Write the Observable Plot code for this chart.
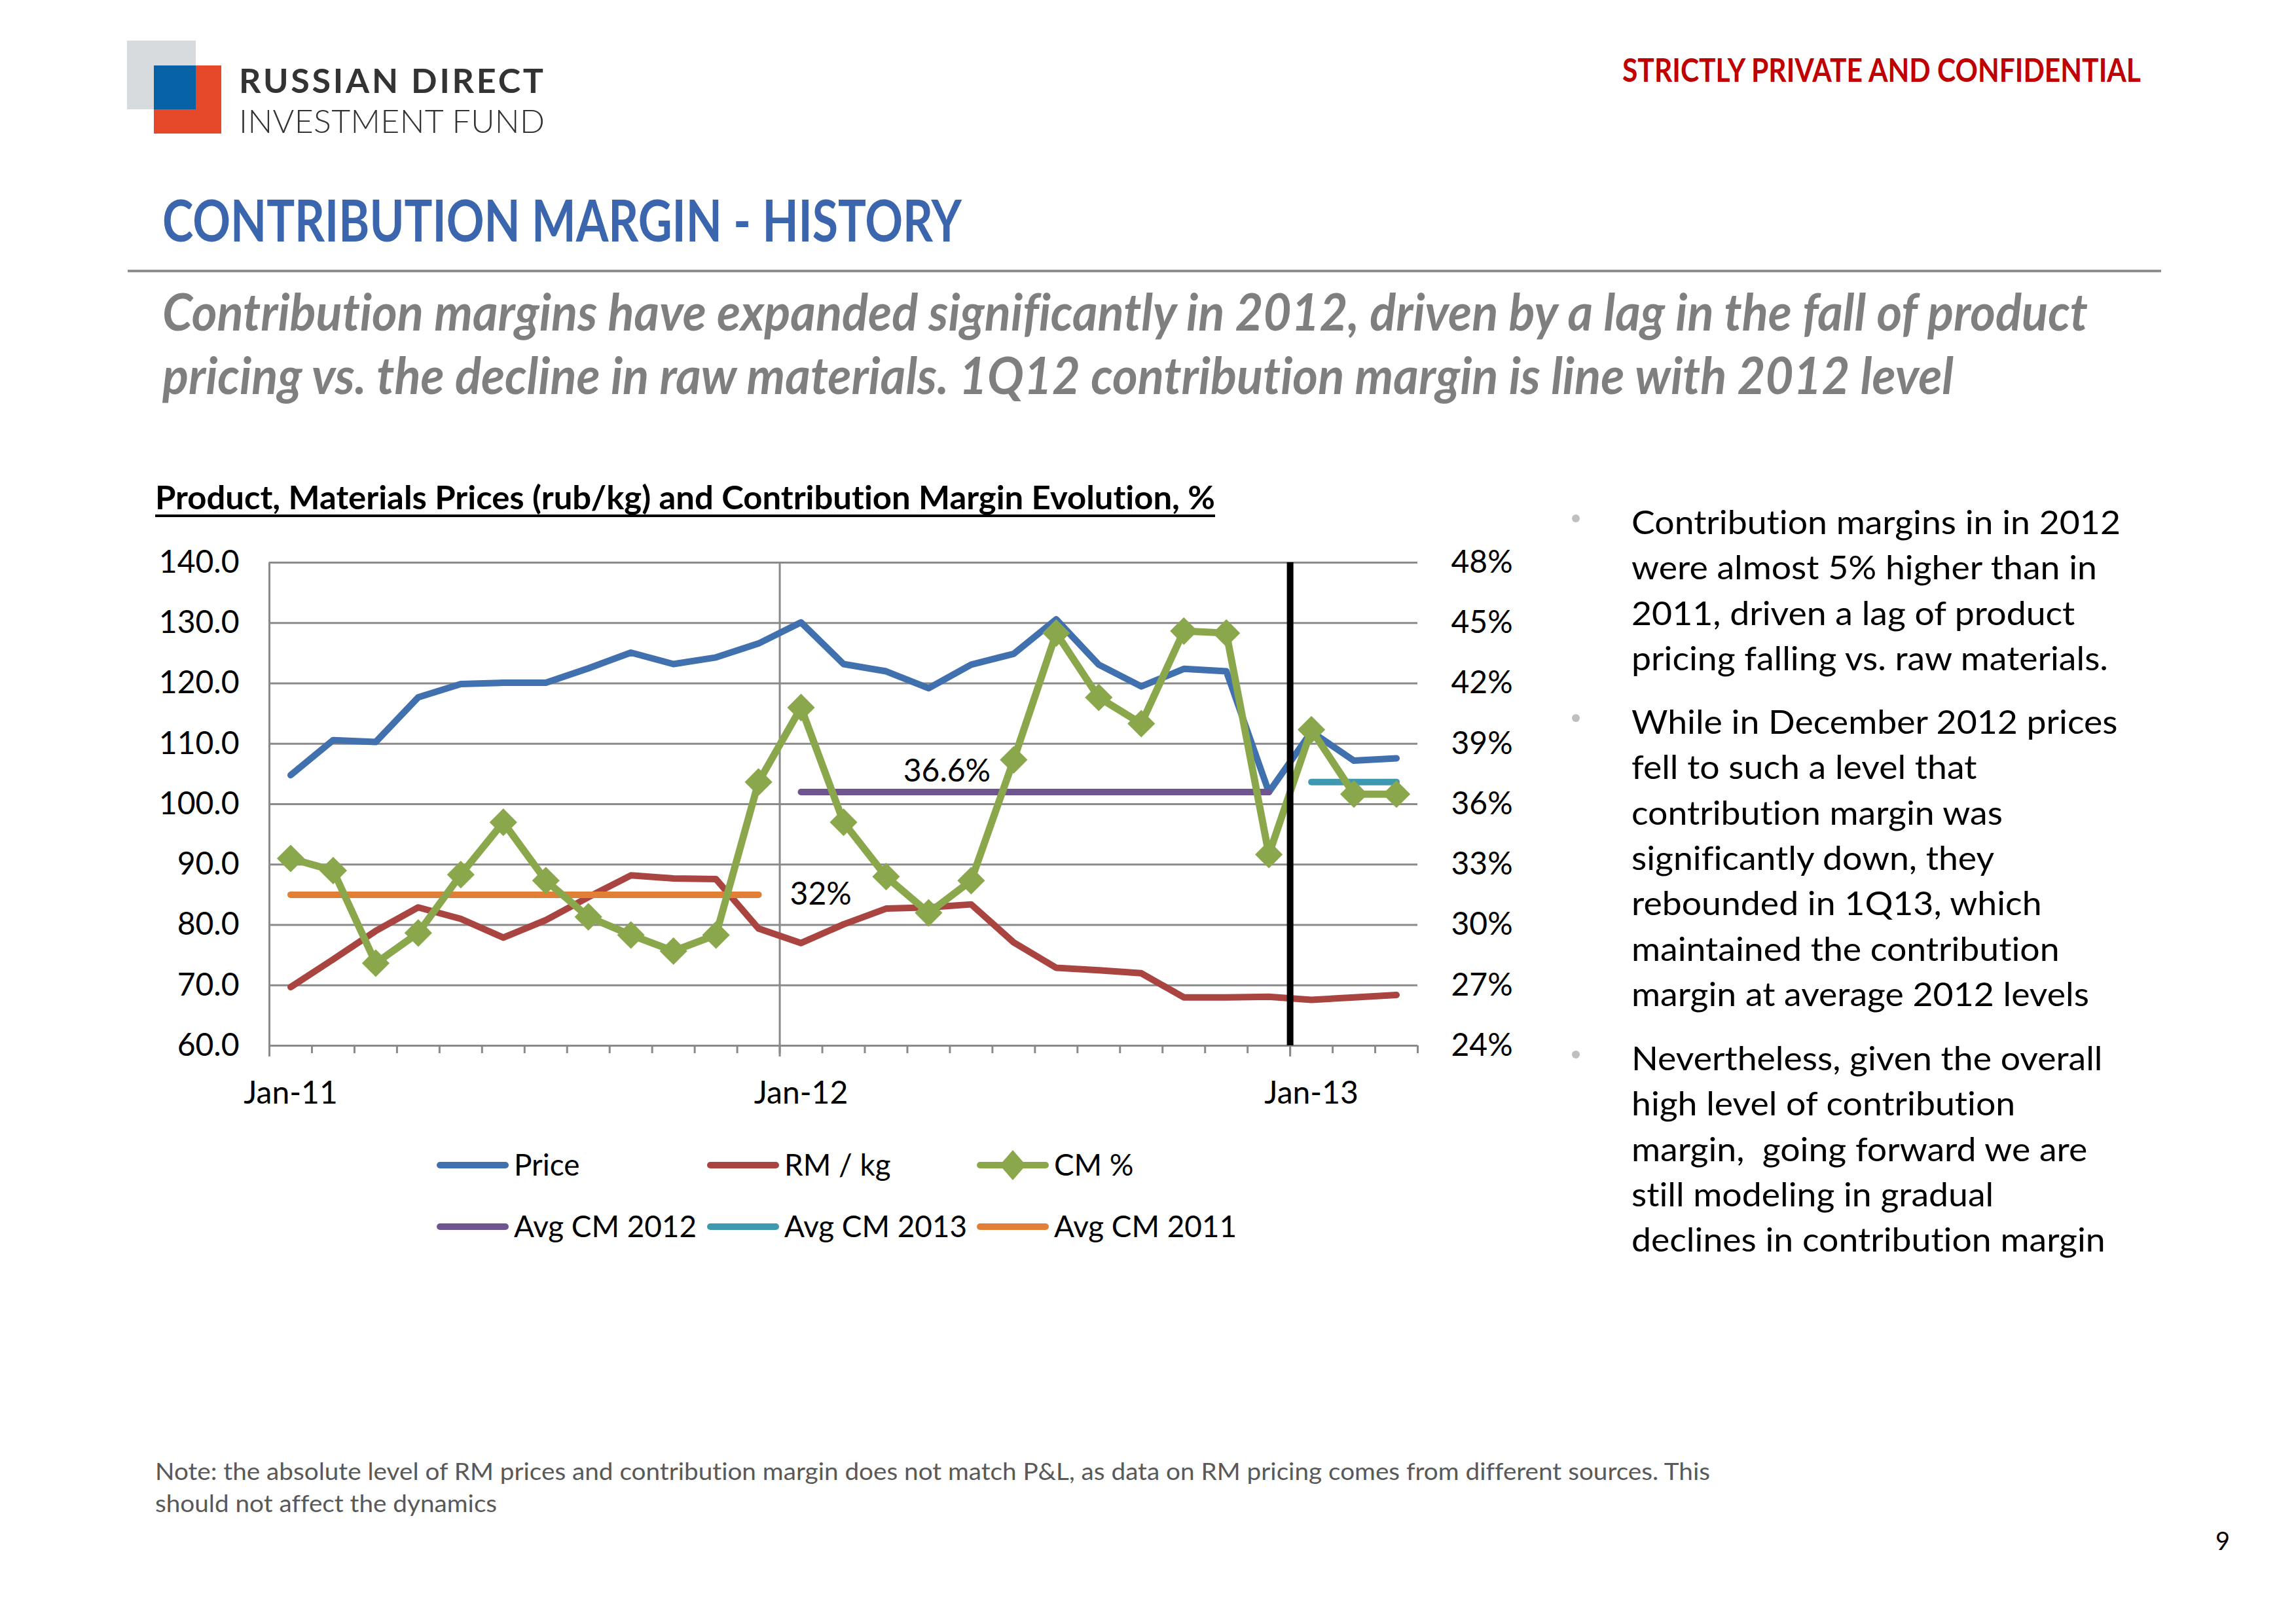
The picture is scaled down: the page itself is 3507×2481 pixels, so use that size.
<!DOCTYPE html>
<html><head><meta charset="utf-8">
<script src="https://cdn.jsdelivr.net/npm/d3@7"></script>
<script src="https://cdn.jsdelivr.net/npm/@observablehq/plot@0.6"></script>
<style>
html,body{margin:0;padding:0;background:#fff;}
#page{position:relative;width:3507px;height:2481px;overflow:hidden;background:#fff;font-family:Lato,sans-serif;font-variant-ligatures:none;}
#page text{font-variant-ligatures:none;}
#deco{position:absolute;left:0;top:0;}
#chart{position:absolute;left:200px;top:820px;}
</style></head>
<body><div id="page"><svg id="deco" width="3507" height="2481"></svg><div id="chart"></div></div>
<script>
// ---------------- DATA ----------------
const months = ["Jan-11","Feb-11","Mar-11","Apr-11","May-11","Jun-11","Jul-11","Aug-11","Sep-11","Oct-11","Nov-11","Dec-11",
                "Jan-12","Feb-12","Mar-12","Apr-12","May-12","Jun-12","Jul-12","Aug-12","Sep-12","Oct-12","Nov-12","Dec-12",
                "Jan-13","Feb-13","Mar-13"];
const price = [104.8,110.6,110.3,117.7,119.9,120.1,120.1,122.5,125.1,123.2,124.3,126.6,
               130.1,123.2,122.0,119.2,123.1,124.9,130.6,123.1,119.5,122.4,122.0,102.0,
               112.0,107.2,107.6];
const rmKg = [69.7,74.3,79.0,82.9,81.0,77.9,80.8,84.6,88.2,87.7,87.6,79.4,
              77.0,80.1,82.7,82.9,83.4,77.1,72.9,72.5,72.0,68.0,68.0,68.1,
              67.6,68.0,68.4];
const cmPct = [33.3,32.7,28.1,29.6,32.5,35.1,32.2,30.4,29.5,28.7,29.5,37.1,
               40.8,35.1,32.4,30.6,32.2,38.2,44.5,41.3,40.0,44.6,44.5,33.5,
               39.7,36.5,36.5];
const avgNames  = ["Avg CM 2011","Avg CM 2012","Avg CM 2013"];
const avgValues = [31.5, 36.6, 37.1];
const avgFrom   = ["Jan-11","Jan-12","Jan-13"];
const avgTo     = ["Dec-11","Dec-12","Mar-13"];
const avgLabels = ["32%","36.6%",null];
const avgLabelAt = ["Dec-11","Apr-12",null];
const leftTicks  = [60,70,80,90,100,110,120,130,140];
const rightTicks = [24,27,30,33,36,39,42,45,48];
const xTickLabels = ["Jan-11","Jan-12","Jan-13"];
const majorGridAt = ["Jan-12"];
const dividerAt = ["Jan-13"];
const seriesNames  = ["Price","RM / kg","CM %","Avg CM 2012","Avg CM 2013","Avg CM 2011"];
const seriesColors = ["#4170AE","#A94441","#8AA84B","#6E558F","#3E98B0","#E07F35"];
const colorOf = Object.fromEntries(seriesNames.map((n,i)=>[n,seriesColors[i]]));

// ---------------- SCALES / HELPERS ----------------
const L0 = leftTicks[0], L1 = leftTicks[leftTicks.length-1];
const R0 = rightTicks[0], R1 = rightTicks[rightTicks.length-1];
const toLeft = p => L0 + (p - R0) * (L1 - L0) / (R1 - R0);
const fromLeft = v => R0 + (v - L0) * (R1 - R0) / (L1 - L0);
const idx = m => months.indexOf(m);
const rows = months.map((m,i) => ({i, m, price: price[i], rm: rmKg[i], cm: cmPct[i]}));
const avgRows = avgNames.flatMap((n,k) => d3.range(idx(avgFrom[k]), idx(avgTo[k]) + 1).map(i => ({name:n, i, v: toLeft(avgValues[k])})));
const labelRows = avgNames.map((n,k)=>({name:n, label: avgLabels[k], at: avgLabelAt[k], v: toLeft(avgValues[k])})).filter(d=>d.label);
const cx = d => d.i + 0.5;
const grid = "#8A8A8A";
const LW = 10;

const chart = Plot.plot({
  width: 2200, height: 880,
  marginLeft: 211, marginRight: 235, marginTop: 39, marginBottom: 103,
  x: {type: "linear", domain: [0, months.length], axis: null},
  y: {type: "linear", domain: [L0, L1], axis: null},
  style: {fontFamily: "Lato, sans-serif", fontSize: "48px", color: "#000", background: "transparent"},
  marks: [
    Plot.ruleY(leftTicks, {stroke: grid, strokeWidth: 3}),
    Plot.ruleX([0], {stroke: grid, strokeWidth: 3}),
    Plot.ruleX(majorGridAt.map(idx), {stroke: grid, strokeWidth: 3}),
    Plot.axisX(d3.range(0, months.length + 1), {tickSize: 12, tickFormat: () => "", stroke: grid, strokeWidth: 3, label: null}),
    Plot.axisX(xTickLabels.map(idx), {tickSize: 17, tickFormat: () => "", stroke: grid, strokeWidth: 3, label: null}),
    Plot.axisX(xTickLabels.map(m => idx(m) + 0.5), {tickSize: 0, tickPadding: 54, tickFormat: d => months[Math.round(d - 0.5)], fontSize: 48, label: null}),
    Plot.axisY(leftTicks, {anchor: "left", tickSize: 0, tickPadding: 46, tickFormat: d => d.toFixed(1), fontSize: 48, label: null}),
    Plot.axisY(rightTicks.map(toLeft), {anchor: "right", tickSize: 0, tickPadding: 51, tickFormat: d => Math.round(fromLeft(d)) + "%", fontSize: 48, label: null}),
    Plot.line(rows, {x: cx, y: "price", stroke: colorOf["Price"], strokeWidth: LW, strokeLinecap: "round", strokeLinejoin: "round"}),
    Plot.line(rows, {x: cx, y: "rm", stroke: colorOf["RM / kg"], strokeWidth: LW, strokeLinecap: "round", strokeLinejoin: "round"}),
    Plot.line(avgRows, {x: cx, y: "v", z: "name", stroke: d => colorOf[d.name], strokeWidth: LW, strokeLinecap: "round"}),
    Plot.line(rows, {x: cx, y: d => toLeft(d.cm), stroke: colorOf["CM %"], strokeWidth: 11, strokeLinecap: "round", strokeLinejoin: "round"}),
    Plot.dot(rows, {x: cx, y: d => toLeft(d.cm), symbol: "diamond2", r: 19, fill: colorOf["CM %"], stroke: "none"}),
    Plot.ruleX(dividerAt.map(idx), {y1: L0, y2: L1, stroke: "#000", strokeWidth: 10}),
    Plot.text(labelRows.filter(d => d.name === "Avg CM 2011"), {x: d => idx(d.at) + 0.5, y: "v", text: "label", textAnchor: "start", dx: 48, fontSize: 48, fill: "#000"}),
    Plot.text(labelRows.filter(d => d.name === "Avg CM 2012"), {x: d => idx(d.at) + 0.5, y: "v", text: "label", dx: 28, dy: -31, fontSize: 48, fill: "#000"})
  ]
});
document.getElementById("chart").appendChild(chart);

// ---------------- PAGE DECORATION ----------------
const deco = d3.select("#deco");
function addLines(lines, {x, y, lh = 0, size, weight = 400, style = "normal", fill = "#000", width = null, adjust = "spacingAndGlyphs", scaleFrom = 0}) {
  const nodes = lines.map((t, k) => deco.append("text")
    .attr("x", x).attr("y", y + k * lh)
    .attr("font-family", "Lato, sans-serif").attr("font-size", size)
    .attr("font-weight", weight).attr("font-style", style).attr("fill", fill).text(t));
  if (width) {
    const w0 = nodes[scaleFrom].node().getComputedTextLength();
    const s = width / w0;
    nodes.forEach(n => { const w = n.node().getComputedTextLength(); n.attr("textLength", w * s).attr("lengthAdjust", adjust); });
  }
  return nodes;
}

// logo
deco.append("rect").attr("x", 194).attr("y", 62).attr("width", 105).attr("height", 105).attr("fill", "#D8DBDE");
deco.append("rect").attr("x", 235).attr("y", 100).attr("width", 103).attr("height", 104).attr("fill", "#E5492A");
deco.append("rect").attr("x", 235).attr("y", 100).attr("width", 64).attr("height", 67).attr("fill", "#0662A4");
addLines(["RUSSIAN DIRECT"], {x: 365, y: 142, size: 52, weight: 700, fill: "#333", width: 465, adjust: "spacing"});
addLines(["INVESTMENT FUND"], {x: 365, y: 203, size: 50, weight: 300, fill: "#333", width: 467, adjust: "spacing"});

addLines(["STRICTLY PRIVATE AND CONFIDENTIAL"], {x: 2478, y: 125, size: 50, weight: 700, fill: "#C00000", width: 792});
addLines(["CONTRIBUTION MARGIN - HISTORY"], {x: 248, y: 369, size: 88, weight: 700, fill: "#3B66AE", width: 1221});
deco.append("line").attr("x1", 195).attr("x2", 3301).attr("y1", 414).attr("y2", 414).attr("stroke", "#8F8F8F").attr("stroke-width", 4);
addLines(["Contribution margins have expanded significantly in 2012, driven by a lag in the fall of product",
          "pricing vs. the decline in raw materials. 1Q12 contribution margin is line with 2012 level"],
         {x: 248, y: 505, lh: 97, size: 78, weight: 700, style: "italic", fill: "#7F7F7F", width: 2941});

addLines(["Product, Materials Prices (rub/kg) and Contribution Margin Evolution, %"], {x: 237, y: 778, size: 50, weight: 700, fill: "#000", width: 1619});
deco.append("line").attr("x1", 237).attr("x2", 1856).attr("y1", 788).attr("y2", 788).attr("stroke", "#000").attr("stroke-width", 4);

// legend
const legCols = [667, 1080, 1492], legRows = [1780, 1874];
const legTexts = [];
seriesNames.forEach((n, k) => {
  const lx = legCols[k % 3], ly = legRows[Math.floor(k / 3)];
  deco.append("line").attr("x1", lx + 5).attr("x2", lx + 105).attr("y1", ly).attr("y2", ly)
    .attr("stroke", seriesColors[k]).attr("stroke-width", 10).attr("stroke-linecap", "round");
  if (n === "CM %") deco.append("path").attr("d", `M${lx + 55},${ly - 23}L${lx + 75},${ly}L${lx + 55},${ly + 23}L${lx + 35},${ly}Z`).attr("fill", seriesColors[k]);
  legTexts.push({n, lx, ly});
});
const legNodes = legTexts.map(d => deco.append("text").attr("x", d.lx + 118).attr("y", d.ly + 16)
  .attr("font-family", "Lato, sans-serif").attr("font-size", 46).attr("fill", "#000").text(d.n));
{
  const ref = legNodes[3].node().getComputedTextLength();
  const s = 279 / ref;
  legNodes.forEach(n => n.attr("textLength", n.node().getComputedTextLength() * s).attr("lengthAdjust", "spacingAndGlyphs"));
}

// bullets
const bulletParas = [
  ["Contribution margins in in 2012", "were almost 5% higher than in", "2011, driven a lag of product", "pricing falling vs. raw materials."],
  ["While in December 2012 prices", "fell to such a level that", "contribution margin was", "significantly down, they", "rebounded in 1Q13, which", "maintained the contribution", "margin at average 2012 levels"],
  ["Nevertheless, given the overall", "high level of contribution", "margin,  going forward we are", "still modeling in gradual", "declines in contribution margin"]
];
const paraY = [816, 1121, 1635];
{
  const probe = deco.append("text").attr("font-family", "Lato, sans-serif").attr("font-size", 51).text(bulletParas[0][0]);
  const s = 747 / probe.node().getComputedTextLength();
  probe.remove();
  bulletParas.forEach((p, k) => {
    deco.append("circle").attr("cx", 2407).attr("cy", paraY[k] - 24).attr("r", 6).attr("fill", "#BFBFBF");
    p.forEach((t, j) => {
      const n = deco.append("text").attr("x", 2492).attr("y", paraY[k] + j * 69.3)
        .attr("font-family", "Lato, sans-serif").attr("font-size", 51).attr("fill", "#000").style("white-space", "pre").text(t);
      n.attr("textLength", n.node().getComputedTextLength() * s).attr("lengthAdjust", "spacingAndGlyphs");
    });
  });
}

addLines(["Note: the absolute level of RM prices and contribution margin does not match P&L, as data on RM pricing comes from different sources. This",
          "should not affect the dynamics"], {x: 237, y: 2261, lh: 49, size: 36, fill: "#595959", width: 2375});
addLines(["9"], {x: 3384, y: 2368, size: 38, fill: "#000"});
</script>
</body></html>
